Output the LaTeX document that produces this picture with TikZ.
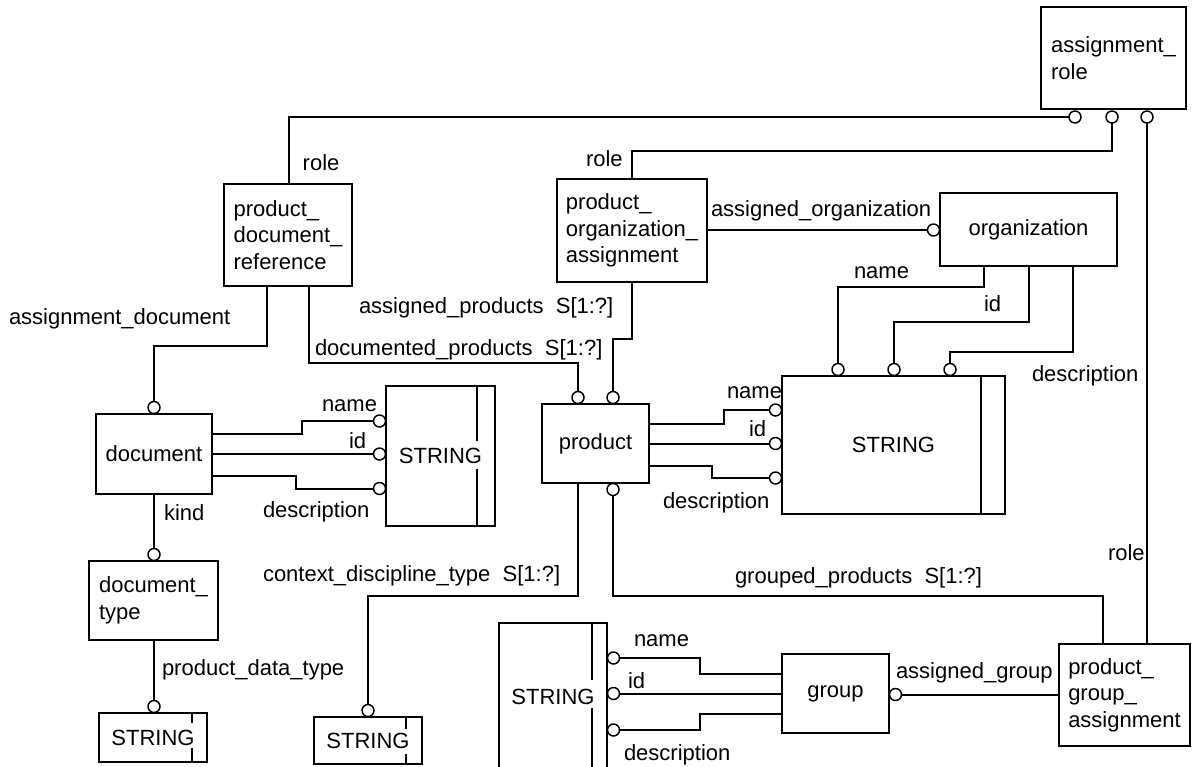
\documentclass[tikz,border=0pt]{standalone}
\usepackage{fontspec}
\setmainfont{Liberation Sans}
\usetikzlibrary{fit,calc}
\begin{document}
\begin{tikzpicture}[x=0.75pt,y=-0.75pt, line width=1.5pt,
  every node/.style={font=\fontsize{16.5}{20}\selectfont},
  ent/.style={draw, rectangle, inner sep=0pt, outer sep=0pt},
  ttl/.style={align=left, inner sep=0pt, outer sep=0pt},
  dot/.style={draw, circle, inner sep=0pt, outer sep=0pt, minimum size=9pt, line width=1.1pt},
  lbl/.style={anchor=base west, inner sep=0pt}]
\useasboundingbox (0,0) rectangle (1192,767);

% entity boxes
\node[ent, fit={(1041,7) (1186,109)}] (ar) {};
\node[ttl] (ar-t) at (ar.center) {assignment\_\\role};
\node[ent, fit={(224,184) (352,286)}] (pdr) {};
\node[ttl] (pdr-t) at (pdr.center) {product\_\\document\_\\reference};
\node[ent, fit={(557,179) (707,282)}] (poa) {};
\node[ttl] (poa-t) at (poa.center) {product\_\\organization\_\\assignment};
\node[ent, fit={(940,193) (1117,266)}] (org) {};
\node[ttl] (org-t) at (org.center) {organization};
\node[ent, fit={(96,414) (212,494)}] (doc) {};
\node[ttl] (doc-t) at (doc.center) {document};
\node[ent, fit={(89,561) (218,640)}] (dt) {};
\node[ttl] (dt-t) at (dt.center) {document\_\\type};
\node[ent, fit={(542,404) (649,483)}] (prod) {};
\node[ttl] (prod-t) at (prod.center) {product};
\node[ent, fit={(782,654) (889,733)}] (grp) {};
\node[ttl] (grp-t) at (grp.center) {group};
\node[ent, fit={(1059,644) (1190,746)}] (pga) {};
\node[ttl] (pga-t) at (pga.center) {product\_\\group\_\\assignment};

% STRING boxes
\node[ent, fit={(386,386) (495,526)}] (strL) {};
\node[ttl] (strL-t) at (strL.center) {STRING};
\node[ent, fit={(782,376) (1005,514)}] (strR) {};
\node[ttl] (strR-t) at (strR.center) {STRING};
\node[ent, fit={(99,713) (207,762)}] (strDT) {};
\node[ttl] (strDT-t) at (strDT.center) {STRING};
\node[ent, fit={(314,717) (422,764)}] (strCD) {};
\node[ttl] (strCD-t) at (strCD.center) {STRING};
\node[inner sep=0pt, outer sep=0pt, fit={(499,623) (607,770)}] (strB) {};
\node[ttl] (strB-t) at (553,696.5) {STRING};
\draw (strB.south west) |- (strB.north east) -- (strB.south east);
\draw (477,386) -- (477,441) (477,469) -- (477,526);
\draw (981,376) -- (981,514);
\draw (192,713) -- (192,723) (192,748) -- (192,762);
\draw (406,717) -- (406,729) (406,754) -- (406,764);
\draw (592,623) -- (592,680) (592,708) -- (592,770);

% circles
\node[dot] (arc1) at (1075,117) {};
\node[dot] (arc2) at (1112,117) {};
\node[dot] (arc3) at (1147,117) {};
\node[dot] (orgc) at (933.5,230) {};
\node[dot] (sRt1) at (838,369.5) {};
\node[dot] (sRt2) at (894,369.5) {};
\node[dot] (sRt3) at (950,369.5) {};
\node[dot] (sRl1) at (775.5,410) {};
\node[dot] (sRl2) at (775.5,443.5) {};
\node[dot] (sRl3) at (775.5,478) {};
\node[dot] (prc1) at (578,397.5) {};
\node[dot] (prc2) at (613,397.5) {};
\node[dot] (prc3) at (613,489.5) {};
\node[dot] (docc) at (154,407.5) {};
\node[dot] (dtc) at (154,554.5) {};
\node[dot] (sDTc) at (154,706.5) {};
\node[dot] (sCDc) at (368,710.5) {};
\node[dot] (sLc1) at (379.5,421) {};
\node[dot] (sLc2) at (379.5,454) {};
\node[dot] (sLc3) at (379.5,488.5) {};
\node[dot] (sBc1) at (613.5,658) {};
\node[dot] (sBc2) at (613.5,693.5) {};
\node[dot] (sBc3) at (613.5,730) {};
\node[dot] (grpc) at (895.5,694.5) {};

% connectors
\draw (pdr.north west) ++(65,0) |- (arc1);
\draw (poa.north west) ++(75,0) -- ++(0,-28) -| (arc2);
\draw (arc3) -- (arc3 |- pga.north);
\draw (poa.east |- orgc) -- (orgc);
\draw (poa.south west) ++(75,0) -- ++(0,57) -| (prc2);
\draw (pdr.south west) ++(85,0) -- ++(0,77) -| (prc1);
\draw (pdr.south west) ++(43,0) -- ++(0,60) -| (docc);
\draw (doc.south) -- (dtc);
\draw (sDTc |- dt.south) -- (sDTc);
\draw (doc.north east) ++(0,20) -- ++(90,0) |- (sLc1);
\draw (doc.east) -- (sLc2);
\draw (doc.north east) ++(0,62) -- ++(84,0) |- (sLc3);
\draw (prod.north east) ++(0,20) -- ++(75,0) |- (sRl1);
\draw (prod.east) -- (sRl2);
\draw (prod.north east) ++(0,62) -- ++(63,0) |- (sRl3);
\draw (org.south west) ++(44,0) -- ++(0,21) -| (sRt1);
\draw (org.south west) ++(89,0) -- ++(0,56) -| (sRt2);
\draw (org.south west) ++(133,0) -- ++(0,86) -| (sRt3);
\draw (prod.south west) ++(36,0) -- ++(0,113) -| (sCDc);
\draw (pga.north west) ++(44,0) -- ++(0,-48) -| (prc3);
\draw (grp.north west) ++(0,20) -- ++(-82,0) |- (sBc1);
\draw (grp.west) -- (sBc2);
\draw (grp.north west) ++(0,60) -- ++(-82,0) |- (sBc3);
\draw (pga.west |- grpc) -- (grpc);

% labels
\node[lbl] (l1) at (301.7,170) {role};
\node[lbl] (l2) at (8,324) {assignment\_document};
\node[lbl] (l3) at (314,355) {documented\_products~~S[1:?]};
\node[lbl] (l4) at (358,313) {assigned\_products~~S[1:?]};
\node[lbl] (l5) at (585,166.5) {role};
\node[lbl] (l6) at (710,216) {assigned\_organization};
\node[lbl] (l7) at (853,278) {name};
\node[lbl] (l8) at (983,311.7) {id};
\node[lbl] (l9) at (1031,381) {description};
\node[lbl] (l10) at (321,411.7) {name};
\node[lbl] (l11) at (348,448.3) {id};
\node[lbl] (l12) at (262,517.3) {description};
\node[lbl] (l13) at (163,520) {kind};
\node[lbl] (l14) at (262,581.7) {context\_discipline\_type~~S[1:?]};
\node[lbl] (l15) at (161,675.7) {product\_data\_type};
\node[lbl] (l16) at (726,398.3) {name};
\node[lbl] (l17) at (748,436.7) {id};
\node[lbl] (l18) at (662,508.3) {description};
\node[lbl] (l19) at (734,583) {grouped\_products~~S[1:?]};
\node[lbl] (l20) at (633,646) {name};
\node[lbl] (l21) at (627,688.3) {id};
\node[lbl] (l22) at (623,760) {description};
\node[lbl] (l23) at (895,678.3) {assigned\_group};
\node[lbl] (l24) at (1107,560) {role};
\end{tikzpicture}
\end{document}
